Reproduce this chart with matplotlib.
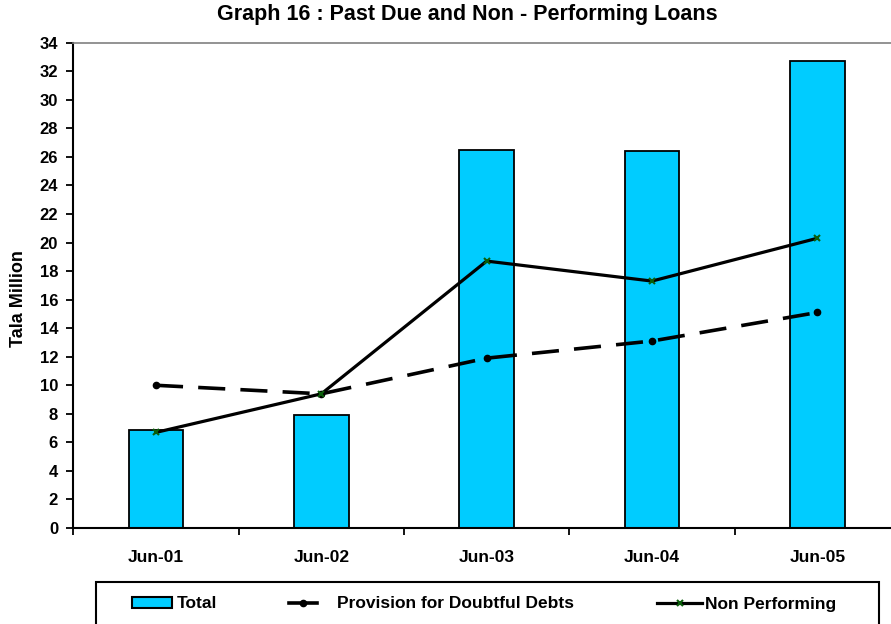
import matplotlib
matplotlib.use("Agg")
import numpy as np
import matplotlib.pyplot as plt
from matplotlib.lines import Line2D
from matplotlib.patches import Patch, Rectangle

plt.rcParams["font.family"] = ["Liberation Sans", "DejaVu Sans"]
plt.rcParams["font.weight"] = "bold"

periods = ["Jun-01", "Jun-02", "Jun-03", "Jun-04", "Jun-05"]
total = [6.9, 7.9, 26.5, 26.4, 32.7]
provision = [10.0, 9.4, 11.9, 13.1, 15.1]
non_performing = [6.7, 9.4, 18.7, 17.3, 20.3]

BAR_COLOR = "#00CCFF"
NP_MARKER = "#0B5E0B"

fig = plt.figure(figsize=(8.91, 6.24), dpi=100)
ax = fig.add_axes([0.0823, 0.1538, 0.9278, 0.7778])

x = np.arange(len(periods))
ax.bar(x, total, width=0.33, color=BAR_COLOR, edgecolor="black", linewidth=1.3, zorder=2)
ax.plot(x, provision, color="black", linewidth=2.6, linestyle=(0, (7.5, 4.2)),
        dash_capstyle="butt", marker="o", markersize=4.5, zorder=3)
ax.plot(x, non_performing, color="black", linewidth=2.3, marker="x", markersize=4,
        markeredgecolor=NP_MARKER, markeredgewidth=1.5, zorder=4)

ax.set_xlim(-0.5, len(periods) - 0.5)
ax.set_ylim(0, 34)
ax.set_yticks(np.arange(0, 35, 2))
ax.tick_params(axis="y", direction="out", length=5, width=1.3, pad=6, labelsize=12)
ax.set_xticks(x)
ax.set_xticklabels(periods)
ax.set_xticks(np.arange(-0.5, len(periods), 1), minor=True)
ax.tick_params(axis="x", which="major", length=0, pad=16, labelsize=12.5)
ax.tick_params(axis="x", which="minor", direction="out", length=5, width=1.3)
for lab in ax.get_xticklabels() + ax.get_yticklabels():
    lab.set_fontweight("bold")

for side in ("left", "bottom"):
    ax.spines[side].set_linewidth(1.5)
ax.spines["top"].set_color("#808080")
ax.spines["top"].set_linewidth(1.2)
ax.spines["right"].set_color("#808080")

ax.set_ylabel("Tala Million", fontsize=13, fontweight="bold")
ax.yaxis.set_label_coords(-0.056, 0.473)

fig.text(0.525, 0.976, "Graph 16 : Past Due and Non - Performing Loans",
         fontsize=15.5, fontweight="bold", ha="center", va="center")

# legend frame runs off the bottom edge
fig.patches.append(Rectangle((96 / 891, -0.1), (879 - 96) / 891, 1 - 582 / 624 + 0.1,
                             transform=fig.transFigure, fill=False, edgecolor="black",
                             linewidth=1.5, clip_on=False))

legend_y = 1 - 604 / 624
entries = [
    (Patch(facecolor=BAR_COLOR, edgecolor="black", linewidth=1.5), "Total", 132, 2.3, 0.29),
    (Line2D([], [], color="black", linewidth=2.6, marker="o", markersize=4.5),
     "Provision for Doubtful Debts", 289, 1.6, 1.15),
    (Line2D([], [], color="black", linewidth=2.3, marker="x", markersize=4,
            markeredgecolor=NP_MARKER, markeredgewidth=1.5), "Non Performing", 657, 2.6, 0.17),
]
for handle, label, x0, hlen, hpad in entries:
    fig.legend([handle], [label], loc="center left", bbox_to_anchor=(x0 / 891, legend_y),
               frameon=False, borderpad=0, borderaxespad=0, handlelength=hlen,
               handleheight=0.6, handletextpad=hpad, numpoints=1,
               prop={"size": 12.5, "weight": "bold"})

fig.savefig("out.png", dpi=100)
